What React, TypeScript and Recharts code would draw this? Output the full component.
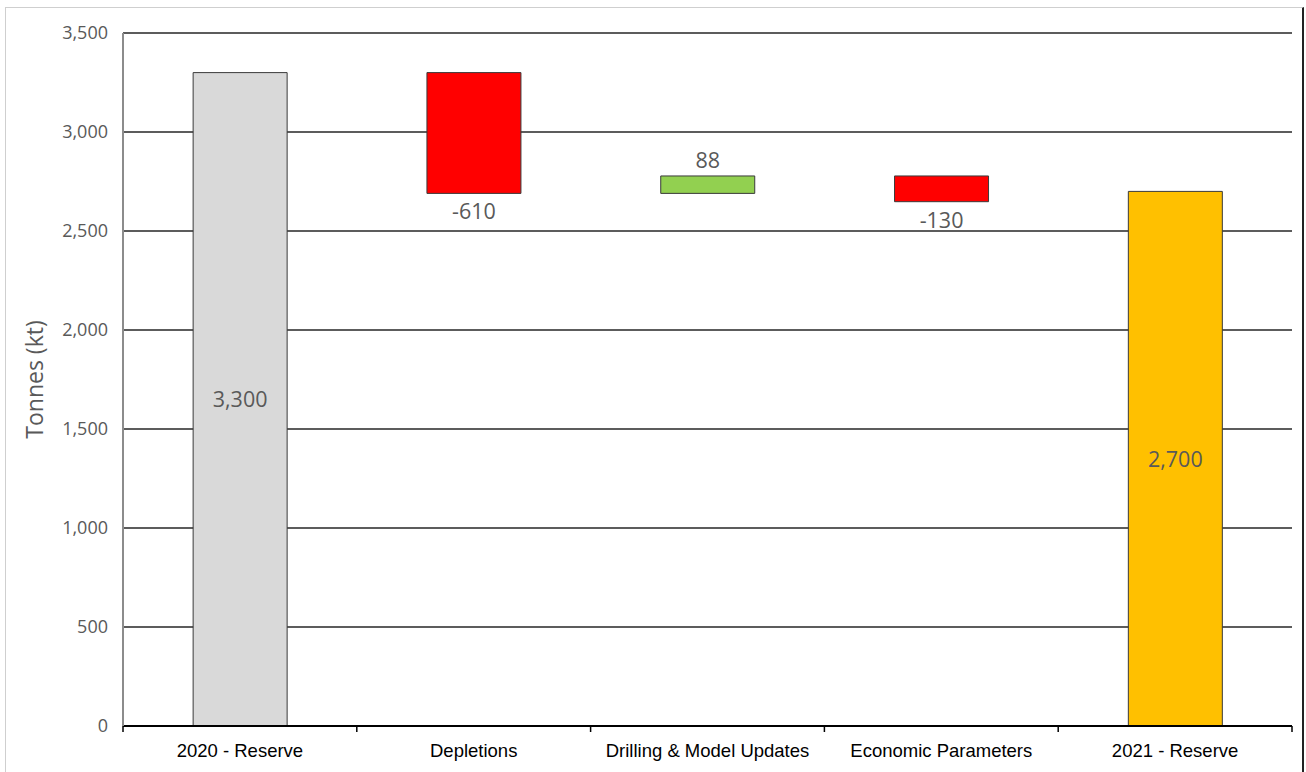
import React from 'react';
import {
  BarChart,
  Bar,
  XAxis,
  YAxis,
  CartesianGrid,
  Cell,
  LabelList,
} from 'recharts';

const categories = [
  '2020 - Reserve',
  'Depletions',
  'Drilling & Model Updates',
  'Economic Parameters',
  '2021 - Reserve',
];
const changes = [3300, -610, 88, -130, 2700];
const kinds = ['total', 'delta', 'delta', 'delta', 'total'];
const colors = ['#d9d9d9', '#ff0000', '#92d050', '#ff0000', '#ffc000'];
const yTicks = [0, 500, 1000, 1500, 2000, 2500, 3000, 3500];

const W = 1306;
const H = 772;
const M = { top: 33, right: 14, bottom: 16, left: 0 };
const Y_W = 123;
const PLOT_W = W - M.left - M.right - Y_W;
const BAND = PLOT_W / categories.length;

// waterfall: transparent base + visible step
let running = 0;
const data = categories.map((name, i) => {
  const v = changes[i];
  let base = 0;
  let step = v;
  if (kinds[i] === 'total') {
    running = v;
  } else {
    base = v < 0 ? running + v : running;
    step = Math.abs(v);
    running += v;
  }
  return { name, base, step, change: v, kind: kinds[i] };
});

const fmt = (n: number) => n.toLocaleString('en-US');

const ValueLabel = (props: any) => {
  const { x, y, width, height, index } = props;
  const d = data[index];
  const cx = x + width / 2;
  let ty = y + height / 2 + 8;
  if (d.kind === 'delta') {
    ty = d.change < 0 ? y + height + 26 : y - 8;
  }
  return (
    <text
      x={cx}
      y={ty}
      textAnchor="middle"
      fill="#595959"
      fontSize={21.5}
      fontFamily="'Open Sans', sans-serif"
    >
      {fmt(d.change)}
    </text>
  );
};

const CatTick = (props: any) => {
  const { x, y, payload, index } = props;
  const axisY = y - 6;
  const left = x - BAND / 2;
  return (
    <g>
      <line x1={left} x2={left} y1={axisY} y2={axisY + 6} stroke="#000" strokeWidth={1.5} />
      {index === categories.length - 1 && (
        <line x1={x + BAND / 2} x2={x + BAND / 2} y1={axisY} y2={axisY + 6} stroke="#000" strokeWidth={1.5} />
      )}
      <text
        x={x}
        y={axisY + 31}
        textAnchor="middle"
        fill="#000"
        fontSize={18.5}
        fontFamily="'Liberation Sans', Arial, sans-serif"
      >
        {payload.value}
      </text>
    </g>
  );
};

export default function App() {
  return (
    <div style={{ position: 'fixed', left: 0, top: 0, width: W, height: H, background: '#fff' }}>
      <div
        style={{
          position: 'absolute',
          left: 5,
          top: 7,
          width: W - 7,
          height: H,
          borderTop: '1.5px solid #cfcfcf',
          borderLeft: '1.5px solid #cfcfcf',
          borderRight: '2px solid #222',
          boxSizing: 'border-box',
        }}
      />
      <div style={{ position: 'absolute', left: 0, top: 0 }}>
        <BarChart width={W} height={H} data={data} margin={M} barCategoryGap="30%">
          <CartesianGrid horizontal vertical={false} stroke="#262626" strokeWidth={1.5} />
          <XAxis
            dataKey="name"
            height={30}
            tickLine={false}
            tickSize={6}
            tickMargin={0}
            axisLine={{ stroke: '#000', strokeWidth: 2 }}
            tick={<CatTick />}
            interval={0}
          />
          <YAxis
            width={Y_W}
            domain={[0, 3500]}
            ticks={yTicks}
            tickFormatter={fmt}
            tickLine={false}
            tickMargin={9}
            axisLine={{ stroke: '#8c8c8c', strokeWidth: 2 }}
            tick={{ fill: '#595959', fontSize: 18, fontFamily: "'Open Sans', sans-serif" }}
            label={{
              content: ({ viewBox }: any) => {
                const cx = viewBox.x + 34;
                const cy = viewBox.y + viewBox.height / 2;
                return (
                  <text
                    x={cx}
                    y={cy}
                    transform={`rotate(-90 ${cx} ${cy})`}
                    textAnchor="middle"
                    dominantBaseline="central"
                    fill="#595959"
                    fontSize={23}
                    fontFamily="'Open Sans', sans-serif"
                  >
                    Tonnes (kt)
                  </text>
                );
              },
            }}
          />
          <YAxis
            yAxisId="frame"
            orientation="right"
            width={0}
            domain={[0, 3500]}
            tick={false}
            tickLine={false}
            axisLine={{ stroke: '#8c8c8c', strokeWidth: 2 }}
          />
          <Bar dataKey="base" stackId="w" fill="transparent" isAnimationActive={false} />
          <Bar dataKey="step" stackId="w" stroke="#3a3a3a" strokeWidth={1} isAnimationActive={false}>
            {data.map((d, i) => (
              <Cell key={d.name} fill={colors[i]} />
            ))}
            <LabelList dataKey="step" content={<ValueLabel />} />
          </Bar>
        </BarChart>
      </div>
    </div>
  );
}
